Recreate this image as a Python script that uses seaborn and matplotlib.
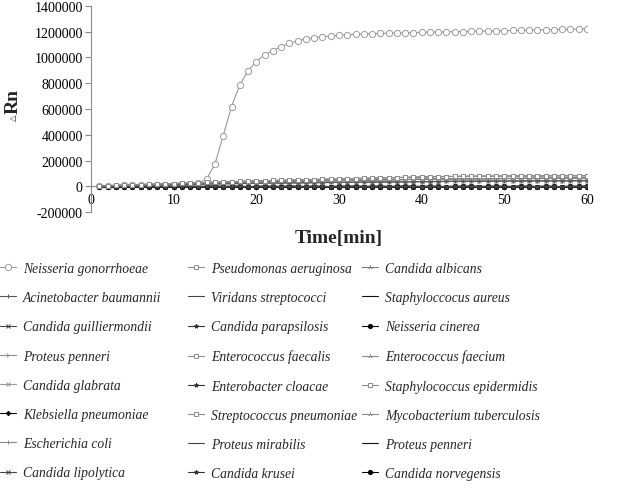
import matplotlib
matplotlib.use("Agg")
import matplotlib.pyplot as plt
import seaborn as sns
import pandas as pd

sns.set_theme(style="white")
plt.rcParams['font.family'] = ['Liberation Serif', 'DejaVu Serif']

# ---------------- data ----------------
time = list(range(1, 61))

ng = [5000, 6000, 7000, 8000, 9000, 10000, 11000, 12000, 13000, 14000,
      16000, 18000, 24000, 59000, 175000, 394000, 619000, 786000, 897000, 967000,
      1018000, 1052000, 1083000, 1108000, 1129000, 1142000, 1153000, 1160000, 1166000, 1171000,
      1175000, 1178000, 1181000, 1183000, 1185000, 1187000, 1189000, 1190000, 1192000, 1193000,
      1195000, 1196000, 1197000, 1199000, 1200000, 1201000, 1203000, 1204000, 1205000, 1207000,
      1208000, 1209000, 1211000, 1212000, 1213000, 1215000, 1216000, 1218000, 1219000, 1221000]

rise_a = [3000, 6000, 9000, 11000, 13000, 15000, 17000, 19000, 21000, 23000,
          25000, 27000, 29000, 31000, 33000, 35000, 37000, 39000, 41000, 43000,
          45000, 46500, 48000, 49500, 51000, 52500, 54000, 55500, 57000, 58500,
          60000, 61500, 63000, 64500, 66000, 67500, 69000, 70500, 72000, 73500,
          75000, 76000, 77000, 78000, 78500, 79000, 79500, 80000, 80500, 81000,
          81000, 81500, 81500, 82000, 82000, 82500, 82500, 83000, 83000, 83500]

rise_b = [2000, 4000, 6000, 8000, 10000, 12000, 14000, 16000, 18000, 20000,
          22000, 23500, 25000, 26500, 28000, 29500, 31000, 32500, 34000, 35500,
          37000, 38000, 39000, 40000, 41000, 42000, 43000, 44000, 45000, 46000,
          47000, 48000, 49000, 50000, 51000, 52000, 53000, 54000, 55000, 56000,
          57000, 57500, 58000, 58500, 59000, 59500, 60000, 60500, 61000, 61500,
          62000, 62500, 63000, 63000, 63500, 64000, 64000, 64500, 65000, 65000]

rise_c = [1000, 2500, 4000, 5500, 7000, 8500, 10000, 11500, 13000, 14500,
          16000, 17000, 18000, 19000, 20000, 21000, 22000, 23000, 24000, 25000,
          26000, 27000, 27500, 28000, 28500, 29000, 30000, 30500, 31000, 31500,
          32000, 33000, 33500, 34000, 34500, 35000, 36000, 36500, 37000, 37500,
          38000, 38500, 39000, 39500, 40000, 40500, 41000, 41500, 42000, 42500,
          43000, 43000, 43500, 43500, 44000, 44000, 44500, 44500, 45000, 45000]

flat_a = [0, 500, -500, 1000, 0, -1000, 500, 0, -500, 1000,
          0, 500, -500, 0, 1000, -500, 0, 500, -1000, 0,
          500, 0, -500, 1000, 0, -500, 500, 0, -1000, 500,
          0, 1000, -500, 0, 500, -500, 0, 1000, 0, -500,
          500, 0, -1000, 500, 0, 1000, -500, 0, 500, 0,
          -500, 1000, 0, -500, 500, 0, -1000, 500, 0, 1000]

flat_b = [-4000, -3500, -4500, -3000, -4000, -5000, -3500, -4000, -4500, -3000,
          -4000, -3500, -4500, -4000, -3000, -4500, -4000, -3500, -5000, -4000,
          -3500, -4000, -4500, -3000, -4000, -4500, -3500, -4000, -5000, -3500,
          -4000, -3000, -4500, -4000, -3500, -4500, -4000, -3000, -4000, -4500,
          -3500, -4000, -5000, -3500, -4000, -3000, -4500, -4000, -3500, -4000,
          -4500, -3000, -4000, -4500, -3500, -4000, -5000, -3500, -4000, -3000]

# species listed row by row as in the legend
species = ["Neisseria gonorrhoeae", "Pseudomonas aeruginosa", "Candida albicans",
           "Acinetobacter baumannii", "Viridans streptococci", "Staphyloccocus aureus",
           "Candida guilliermondii", "Candida parapsilosis", "Neisseria cinerea",
           "Proteus penneri", "Enterococcus faecalis", "Enterococcus faecium",
           "Candida glabrata", "Enterobacter cloacae", "Staphylococcus epidermidis",
           "Klebsiella pneumoniae", "Streptococcus pneumoniae", "Mycobacterium tuberculosis",
           "Escherichia coli", "Proteus mirabilis", "Proteus penneri",
           "Candida lipolytica", "Candida krusei", "Candida norvegensis"]

series_values = [ng, rise_a, rise_b,
                 rise_c, flat_a, flat_a,
                 flat_b, flat_a, flat_b,
                 rise_c, rise_b, rise_a,
                 rise_c, flat_a, rise_a,
                 flat_b, rise_b, rise_c,
                 rise_b, flat_a, flat_b,
                 flat_a, flat_b, flat_a]

# styles: (marker, colour, face colour)
styles = [("o", "#9a9a9a", "white"), ("s", "#8c8c8c", "white"), ("2", "#7a7a7a", "#7a7a7a"),
          ("+", "#555555", "#555555"), ("_", "#444444", "#444444"), ("_", "#111111", "#111111"),
          ("x", "#444444", "#444444"), ("*", "#333333", "#333333"), ("o", "#000000", "#000000"),
          ("4", "#8a8a8a", "#8a8a8a"), ("s", "#8c8c8c", "white"), ("2", "#8a8a8a", "#8a8a8a"),
          ("x", "#9a9a9a", "#9a9a9a"), ("*", "#333333", "#333333"), ("s", "#8c8c8c", "white"),
          ("D", "#000000", "#000000"), ("s", "#8c8c8c", "white"), ("2", "#8a8a8a", "#8a8a8a"),
          ("+", "#8a8a8a", "#8a8a8a"), ("_", "#444444", "#444444"), ("_", "#111111", "#111111"),
          ("x", "#444444", "#444444"), ("*", "#333333", "#333333"), ("o", "#000000", "#000000")]

msizes = {"o": 3.0, "s": 3.0, "2": 3.5, "+": 3.0, "_": 3.5, "x": 2.5, "*": 3.0, "D": 2.2, "4": 3.5}

# ---------------- figure ----------------
fig = plt.figure(figsize=(6.38, 4.89), dpi=100)
ax = fig.add_axes([0.1426, 0.5638, 0.7774, 0.4225])

for i in list(range(len(species)))[::-1]:
    m, c, fc = styles[i]
    ms = 4.5 if i == 0 else msizes[m]
    df = pd.DataFrame({"time": time, "value": series_values[i]})
    sns.lineplot(data=df, x="time", y="value", ax=ax, color=c, linewidth=0.8,
                 marker=m, markersize=ms, markerfacecolor=fc,
                 markeredgecolor=c, markeredgewidth=0.7, label=f"s{i}", legend=False,
                 zorder=3 if i == 0 else 4)

lines = {ln.get_label(): ln for ln in ax.lines}
row_handles = [lines[f"s{i}"] for i in range(len(species))]
leg = ax.get_legend()
if leg is not None:
    leg.remove()

ax.set_xlim(0, 60)
ax.set_ylim(-200000, 1400000)
ax.set_xticks([0, 10, 20, 30, 40, 50, 60])
ax.set_yticks([-200000, 0, 200000, 400000, 600000, 800000, 1000000, 1200000, 1400000])
ax.set_yticklabels(["-200000", "0", "200000", "400000", "600000", "800000",
                    "1000000", "1200000", "1400000"])
ax.set_xlabel("")
ax.set_ylabel("")
ax.spines["top"].set_visible(False)
ax.spines["right"].set_visible(False)
ax.spines["bottom"].set_position(("data", 0))
for s in ("left", "bottom"):
    ax.spines[s].set_color("#8a8a8a")
    ax.spines[s].set_linewidth(0.8)
ax.tick_params(axis="y", direction="out", length=4, width=0.8, color="#8a8a8a",
               labelsize=10, pad=2, left=True, labelcolor="black")
ax.tick_params(axis="x", direction="out", length=3, width=0.8, color="#8a8a8a",
               labelsize=10, pad=2, bottom=True, labelcolor="black")
ax.grid(False)
ax.patch.set_alpha(0)

# axis titles
fig.text(339 / 638, 1 - 239 / 489, "Time[min]", ha="center", va="center",
         fontsize=14, fontweight="bold")
fig.text(13 / 638, 1 - 101 / 489, "Rn", ha="center", va="center", rotation=90,
         fontsize=14, fontweight="bold")
fig.text(13 / 638, 1 - 118 / 489, "\u25B3", ha="center", va="center", rotation=90,
         fontsize=6, family=["DejaVu Sans"])

# legend: three columns, each its own legend block
ncol, nrow = 3, 8
col_x = [0 / 638, 188 / 638, 362 / 638]
for c in range(ncol):
    idx = [r * ncol + c for r in range(nrow)]
    lg = fig.legend([row_handles[k] for k in idx], [species[k] for k in idx],
                    ncol=1, loc="upper left",
                    bbox_to_anchor=(col_x[c], 1 - 263 / 489), frameon=False,
                    prop={"family": "Liberation Serif", "style": "italic", "size": 9.8},
                    handlelength=1.2, handletextpad=0.5,
                    labelspacing=1.19, borderaxespad=0, borderpad=0.0)

fig.savefig("out.png", dpi=100)
